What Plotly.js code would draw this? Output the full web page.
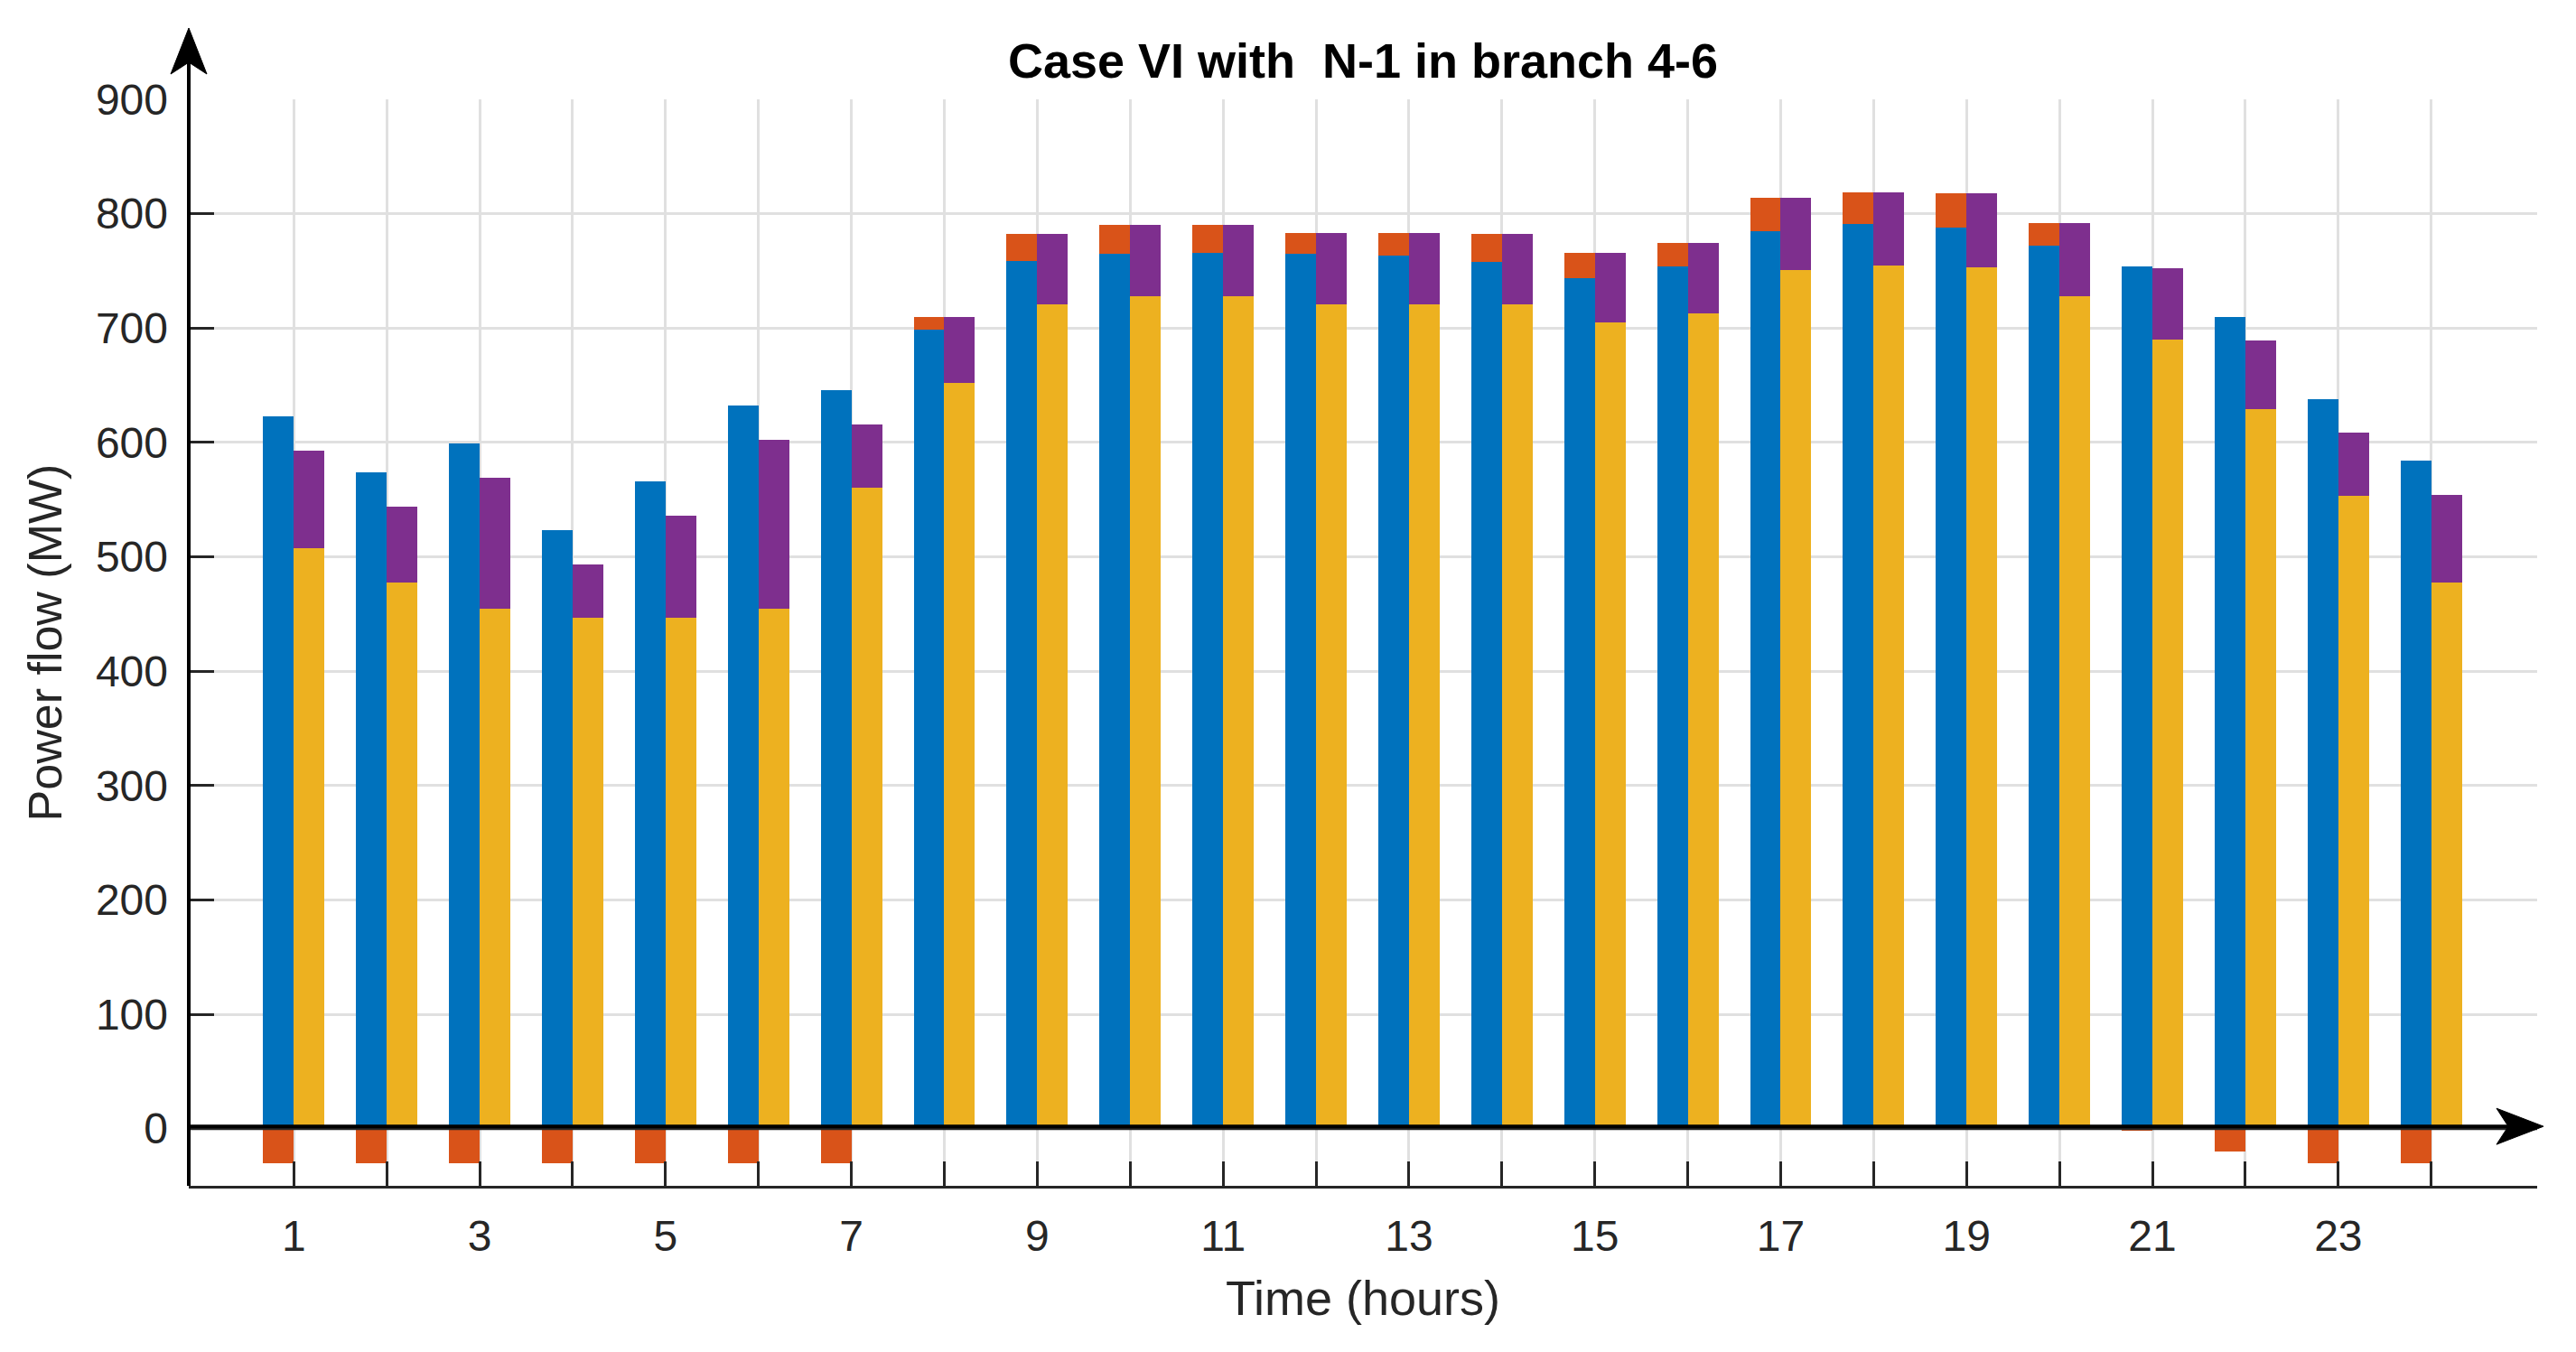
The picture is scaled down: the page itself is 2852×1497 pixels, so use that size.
<!DOCTYPE html>
<html>
<head>
<meta charset="utf-8">
<script src="https://cdn.plot.ly/plotly-3.0.1.min.js"></script>
<style>html,body{margin:0;padding:0;background:#fff;}#chart{width:2852px;height:1497px;}</style>
</head>
<body>
<div id="chart"></div>
<script>
// ---- data ----
const hours = [1,2,3,4,5,6,7,8,9,10,11,12,13,14,15,16,17,18,19,20,21,22,23,24];
const xTickText = ['1','','3','','5','','7','','9','','11','','13','','15','','17','','19','','21','','23',''];
const yTickVals = [0,100,200,300,400,500,600,700,800,900];
const blueFlow   = [623,574,599,523,566,632,646,699,759,765,766,765,763,758,744,754,785,791,788,772,754,710,638,584];
const orangeFlow = [-30,-30,-30,-30,-30,-30,-30,10.5,23,25,24.5,18,20,24.5,21.5,20.5,29,27.5,29.5,19.5,-2,-20,-30,-30];
const yellowFlow = [507.5,477.5,454.5,446.5,446.5,454.5,560.5,652,721,727.5,727.5,721,721,721,705,713,750.5,754.5,753,727.5,690,629,553,477.5];
const purpleFlow = [85.5,66.5,114.5,46.5,89.5,147.5,55.5,57.5,61,62.5,63,62,62,61.5,60.5,61.5,63.5,64,64.5,64,62.5,60.5,55.5,76.5];

// ---- styling ----
const BAR_W = 0.33;
const leftX  = hours.map(h => h - BAR_W / 2);
const rightX = hours.map(h => h + BAR_W / 2);
const FONT = 'Liberation Sans, Arial, Helvetica, sans-serif';
const TXT = '#262626';
const GRID = '#E0E0E0';

function barTrace(x, y, color) {
  return {type: 'bar', x: x, y: y, width: BAR_W,
          marker: {color: color, line: {width: 0}}, hoverinfo: 'skip'};
}

const traces = [
  barTrace(leftX, blueFlow, '#0072BD'),
  barTrace(leftX, orangeFlow, '#D95319'),
  barTrace(rightX, yellowFlow, '#EDB120'),
  barTrace(rightX, purpleFlow, '#7E2F8E')
];

const layout = {
  width: 2852, height: 1497,
  margin: {l: 209, r: 43, t: 110, b: 184, pad: 0},
  paper_bgcolor: '#ffffff', plot_bgcolor: '#ffffff',
  barmode: 'relative', bargap: 0, showlegend: false,
  font: {family: FONT, color: TXT, size: 48},
  title: {text: 'Case VI with\u00A0\u00A0N-1 in branch 4-6',
          font: {family: FONT, size: 54, color: '#000000', weight: 'bold'},
          x: 0.5, xref: 'paper', xanchor: 'center',
          y: 1 - 67 / 1497, yref: 'container', yanchor: 'middle'},
  xaxis: {range: [-0.13, 25.14], tickmode: 'array', tickvals: hours, ticktext: xTickText,
          ticks: 'inside', ticklen: 27, tickwidth: 3, tickcolor: TXT,
          showgrid: true, gridcolor: GRID, gridwidth: 3, zeroline: false,
          showline: true, linecolor: TXT, linewidth: 3, mirror: false,
          tickfont: {family: FONT, size: 48, color: TXT}, ticklabelstandoff: 11,
          title: {text: 'Time (hours)', font: {family: FONT, size: 54, color: TXT}, standoff: 25},
          fixedrange: true},
  yaxis: {range: [-50, 900], tickmode: 'array', tickvals: yTickVals,
          ticks: 'inside', ticklen: 28, tickwidth: 3, tickcolor: TXT,
          showgrid: true, gridcolor: GRID, gridwidth: 3, zeroline: false,
          showline: false,
          tickfont: {family: FONT, size: 48, color: TXT}, ticklabelstandoff: 22,
          title: {text: 'Power flow (MW)', font: {family: FONT, size: 52, color: TXT}, standoff: 20},
          fixedrange: true},
  shapes: [
    // bar baseline at zero
    {type: 'line', layer: 'above', xref: 'paper', x0: 0, x1: 1, yref: 'y', y0: 0, y1: 0,
     line: {color: TXT, width: 3}},
    // black x arrow line, slightly above the baseline
    {type: 'line', layer: 'above', xref: 'paper', x0: 0, x1: 1, yref: 'y', ysizemode: 'pixel', yanchor: 0,
     y0: 2.5, y1: 2.5, line: {color: '#000000', width: 4}},
    // x arrow head
    {type: 'path', layer: 'above', xref: 'paper', xsizemode: 'pixel', xanchor: 1,
     yref: 'y', ysizemode: 'pixel', yanchor: 0,
     path: 'M7,2.5 L-45,22.5 L-32,2.5 L-45,-17.5 Z',
     fillcolor: '#000000', line: {color: '#000000', width: 1}},
    // black y axis line with arrow
    {type: 'line', layer: 'above', xref: 'paper', x0: 0, x1: 0, yref: 'paper', y0: 0, y1: 1.035,
     line: {color: '#000000', width: 4}},
    {type: 'path', layer: 'above', xref: 'paper', xsizemode: 'pixel', xanchor: 0,
     yref: 'paper', ysizemode: 'pixel', yanchor: 1,
     path: 'M0,79 L-20,28 L0,41 L20,28 Z',
     fillcolor: '#000000', line: {color: '#000000', width: 1}}
  ]
};

Plotly.newPlot('chart', traces, layout, {displayModeBar: false, staticPlot: true});
</script>
</body>
</html>
